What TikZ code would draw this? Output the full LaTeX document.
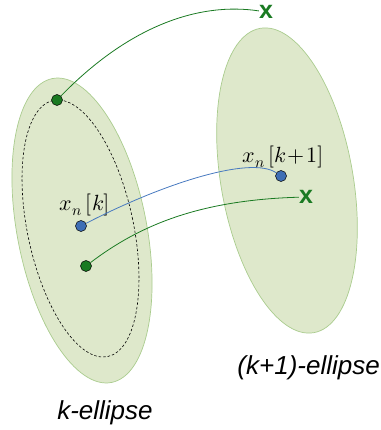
\documentclass[tikz,border=0pt]{standalone}
\usepackage{fontspec}
\usepackage{unicode-math}
\setmainfont{Liberation Sans}
\usetikzlibrary{positioning}
\definecolor{ellfill}{RGB}{222,232,203}
\definecolor{elldraw}{RGB}{170,204,142}
\definecolor{dotgreen}{RGB}{26,122,34}
\definecolor{dotblue}{RGB}{62,110,181}
\definecolor{lineblue}{RGB}{72,122,192}

\begin{document}
\begin{tikzpicture}[
  x=1pt, y=-1pt,
  region/.style={draw=elldraw, fill=ellfill, line width=0.7pt},
  level/.style={draw, line width=0.6pt, dash pattern=on 2.5pt off 2pt},
  gdot/.style={circle, draw, fill=dotgreen, inner sep=0pt, minimum size=11pt, line width=0.5pt},
  bdot/.style={circle, draw, fill=dotblue, inner sep=0pt, minimum size=11pt, line width=0.5pt},
  cross/.style={text=dotgreen, font=\fontsize{25}{25}\selectfont\bfseries, inner sep=0pt},
  lbl/.style={font=\fontsize{22}{22}\selectfont, inner sep=0pt},
  ellname/.style={font=\fontsize{26}{26}\selectfont\itshape, inner sep=0pt},
  glink/.style={dotgreen, line width=0.8pt},
  blink/.style={lineblue, line width=0.8pt}
]
  \useasboundingbox (0,0) rectangle (380,430);
  % ellipses
  \draw[region, rotate around={11:(82,230.5)}] (82,230.5) ellipse [x radius=64.7, y radius=154.8];
  \draw[region, rotate around={10:(287,180.5)}] (287,180.5) ellipse [x radius=66, y radius=154.5];
  \draw[level, rotate around={12:(80.5,228.5)}] (80.5,228.5) ellipse [x radius=52.9, y radius=130.9];

  % points
  \node[gdot] (top) at (57,100) {};
  \node[bdot] (xk) at (81,226) {};
  \node[gdot] (low) at (86,266) {};
  \node[bdot] (xk1) at (281,176) {};
  \node[cross] (x1) at (266,12) {x};
  \node[cross] (x2) at (306,197) {x};

  % labels
  \node[lbl] (lk) at (85,205) {$x_n\,[k]$};
  \node[lbl] (lk1) at (283,157) {$x_n\,[k\!+\!1]$};
  \node[ellname] (nk) at (105,413) {k-ellipse};
  \node[ellname, anchor=east] (nk1) at (380,368) {(k+1)-ellipse};

  % links
  \draw[glink] (top) .. controls (130,25) and (200,2) .. (x1);
  \draw[blink] (xk) .. controls (160,185) and (250,155) .. (xk1);
  \draw[glink] (low) .. controls (140,225) and (200,200) .. (x2);
\end{tikzpicture}
\end{document}
